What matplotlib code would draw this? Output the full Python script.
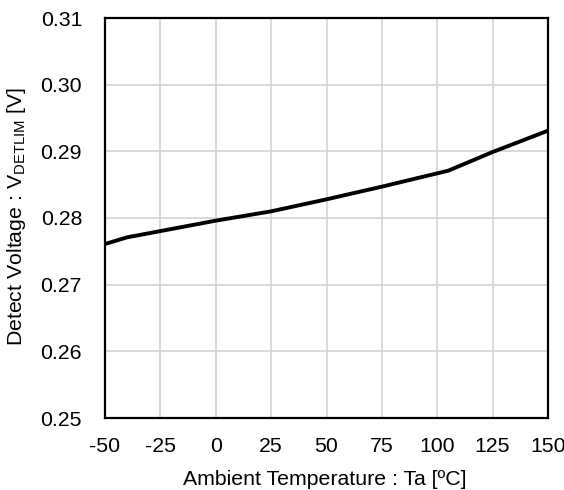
import matplotlib
matplotlib.use("Agg")
import matplotlib.pyplot as plt

plt.rcParams['font.family'] = ['Liberation Sans', 'DejaVu Sans']
plt.rcParams['mathtext.fontset'] = 'custom'
plt.rcParams['mathtext.rm'] = 'Liberation Sans'

# Detect voltage vs ambient temperature
temperature = [-50, -40, 0, 25, 50, 75, 105, 125, 150]
detect_voltage = [0.2761, 0.2771, 0.2796, 0.2810, 0.2828, 0.2847, 0.2871, 0.2899, 0.2931]

x_ticks = [-50, -25, 0, 25, 50, 75, 100, 125, 150]
y_ticks = [0.25, 0.26, 0.27, 0.28, 0.29, 0.30, 0.31]

FS = 15.3
W, H = 564, 490
fig = plt.figure(figsize=(W / 100, H / 100), dpi=100)
ax = fig.add_axes([105 / W, 1 - 418 / H, (548 - 105) / W, (418 - 18) / H])

ax.plot(temperature, detect_voltage, color='black', lw=2.8, solid_capstyle='butt',
        solid_joinstyle='round', clip_on=True, zorder=3)

ax.set_xlim(-50, 150)
ax.set_ylim(0.25, 0.31)
ax.set_xticks(x_ticks)
ax.set_yticks(y_ticks)
ax.set_xticklabels([str(t) for t in x_ticks])
ax.set_yticklabels([f"{v:.2f}" for v in y_ticks])
ax.tick_params(axis='both', length=0, labelsize=FS, colors='black')
ax.tick_params(axis='y', pad=16.5)
ax.tick_params(axis='x', pad=13.5)
ax.grid(True, color='#d0d0d0', lw=1.1)
ax.set_axisbelow(True)
for sp in ax.spines.values():
    sp.set_linewidth(1.6)
    sp.set_color('black')
    sp.set_zorder(4)

fig.text(17 / W, 1 - 217 / H, r'Detect Voltage : V$_{\mathregular{DETLIM}}$ [V]',
         rotation=90, ha='center', va='center', fontsize=FS)
fig.text(325 / W, 1 - 485 / H, 'Ambient Temperature : Ta [ºC]',
         ha='center', va='baseline', fontsize=FS)
fig.text(335 / W, 1 + 5 / H, '(VCC=5V)', ha='center', va='baseline', fontsize=FS)

fig.savefig('out.png', dpi=100)
